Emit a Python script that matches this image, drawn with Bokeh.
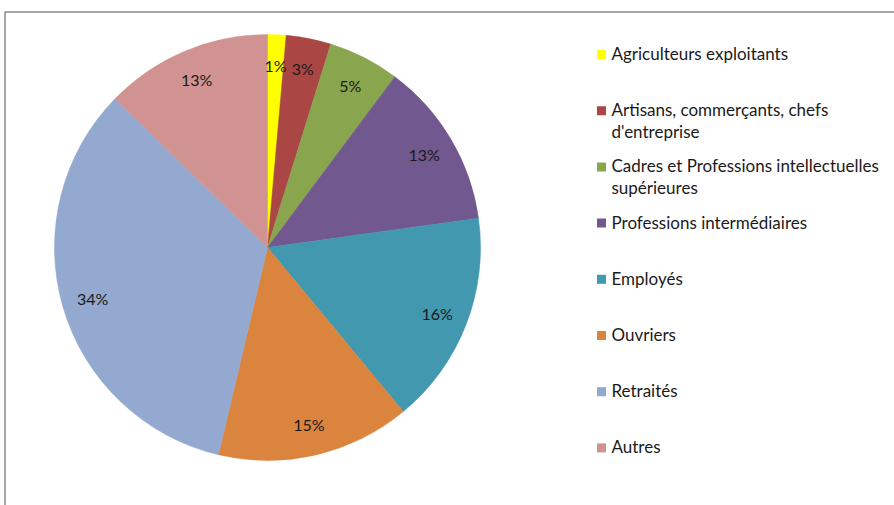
import math
import numpy as np
from bokeh.plotting import figure
from bokeh.models import Range1d, ColumnDataSource
from bokeh.core.properties import value
from bokeh.embed import file_html
from bokeh.resources import INLINE

# ---- data ----
categories = [
    "Agriculteurs exploitants",
    "Artisans, commerçants, chefs\nd'entreprise",
    "Cadres et Professions intellectuelles\nsupérieures",
    "Professions intermédiaires",
    "Employés",
    "Ouvriers",
    "Retraités",
    "Autres",
]
shares = [1.4, 3.4, 5.4, 12.6, 16.2, 14.7, 33.6, 12.7]
pct_labels = ["1%", "3%", "5%", "13%", "16%", "15%", "34%", "13%"]
colors = ["#FFFF00", "#AA4643", "#89A54E", "#71588F", "#4198AF", "#DB843D", "#93A9CF", "#D19392"]

W, H = 894, 505
p = figure(width=W, height=H, output_backend="svg", toolbar_location=None,
           x_range=Range1d(0, W), y_range=Range1d(0, H), min_border=0)
p.axis.visible = False
p.grid.visible = False
p.outline_line_color = None
p.background_fill_color = "white"
p.border_fill_color = "white"

# frame
p.quad(left=[4.5], right=[W + 10], top=[H - 11.5], bottom=[-10],
       fill_color=None, line_color="#8a8a8a", line_width=1.5)

# pie
cx, cy, R = 267, H - 247, 213
vals = np.array(shares, dtype=float)
frac = vals / vals.sum()
cum = np.concatenate([[0], np.cumsum(frac)])
start = math.pi / 2 - 2 * math.pi * cum[:-1]
end = math.pi / 2 - 2 * math.pi * cum[1:]
src = ColumnDataSource(dict(start=start, end=end, color=colors))
p.wedge(x=cx, y=cy, radius=R, start_angle="start", end_angle="end",
        direction="clock", fill_color="color", line_color="color", line_width=0.5, source=src)

# percent labels
mid = math.pi / 2 - 2 * math.pi * (cum[:-1] + cum[1:]) / 2
lr = R * 0.855
lx = cx + lr * np.cos(mid)
ly = cy + lr * np.sin(mid)
p.text(x=lx, y=ly, text=pct_labels, text_font=value("Lato"), text_font_size="16px",
       text_color="#1a1a1a", text_align="center", text_baseline="middle")

# legend
sq_x = 601
tx = 611
y0 = 53
step = 56.2
line_h = 22
sx, sy, lxs, lys, ltxt = [], [], [], [], []
for i, (cat, col) in enumerate(zip(categories, colors)):
    yy = y0 + i * step
    sx.append(sq_x)
    sy.append(H - yy - 1)
    for j, line in enumerate(cat.split("\n")):
        lxs.append(tx)
        lys.append(H - (yy + j * line_h))
        ltxt.append(line)
p.rect(x=sx, y=sy, width=9, height=9, fill_color=colors, line_color=None)
p.text(x=lxs, y=lys, text=ltxt, text_font=value("Lato"), text_font_size="17px",
       text_color="#1a1a1a", text_align="left", text_baseline="middle")

open("out.html", "w").write(file_html(p, INLINE))
